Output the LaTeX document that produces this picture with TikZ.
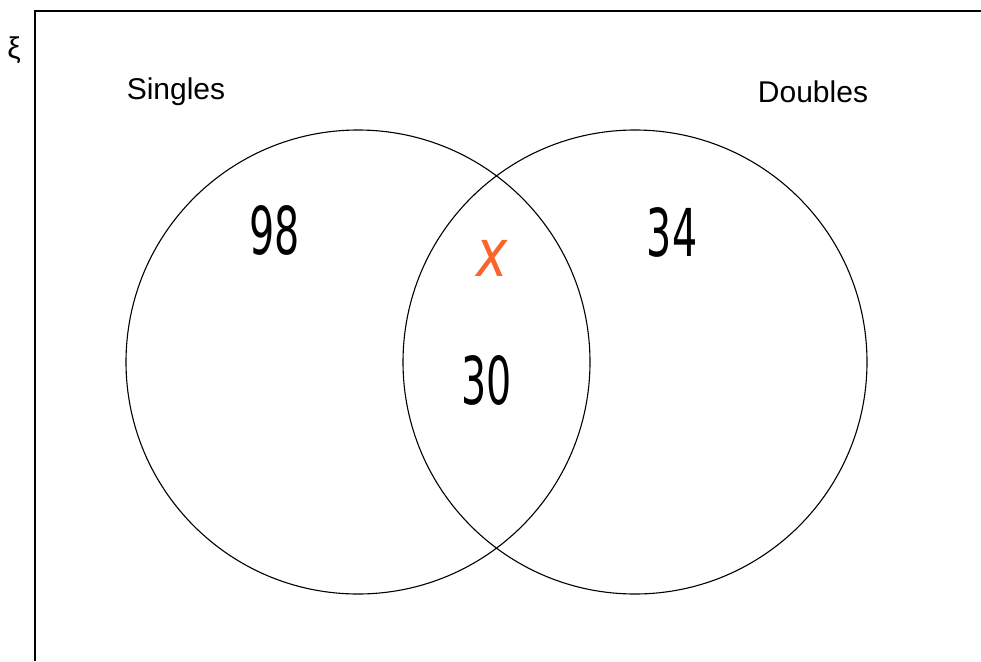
\documentclass[tikz,border=0pt]{standalone}
\usepackage{fontspec}
\setmainfont{Liberation Sans}
\newfontfamily\handfont{DejaVu Sans}
\usepackage{xcolor}
\definecolor{markorange}{RGB}{250,100,40}

\begin{document}
\begin{tikzpicture}[x=1pt,y=-1pt,
    setcircle/.style={draw,circle,line width=1.1pt,minimum size=464pt,inner sep=0pt},
    setlabel/.style={font=\fontsize{30}{34}\selectfont},
    count/.style={font=\handfont\fontsize{66}{70}\selectfont}]
                \useasboundingbox (0,0) rectangle (981,661);
                \draw[line width=1.6pt] (35,661) -- (35,11) -- (981,11);
                \node[font=\fontsize{30}{34}\selectfont] (xi) at (14,50) {ξ};
                \node[setcircle] (singles) at (358,362) {};
                \node[setcircle] (doubles) at (635,362) {};
                \node[setlabel] (singleslbl) at (176,92) {Singles};
                \node[setlabel] (doubleslbl) at (813,92) {Doubles};
                \node[count] (only1) at (275,230) {\scalebox{0.6}[1]{98}};
                \node[count] (only2) at (672,232) {\scalebox{0.6}[1]{34}};
                \node[count,text=markorange] (both) at (492,258) {\scalebox{0.8}[1]{\itshape x}};
                \node[count] (inter) at (487,380) {\scalebox{0.6}[1]{30}};
            \end{tikzpicture}
\end{document}
